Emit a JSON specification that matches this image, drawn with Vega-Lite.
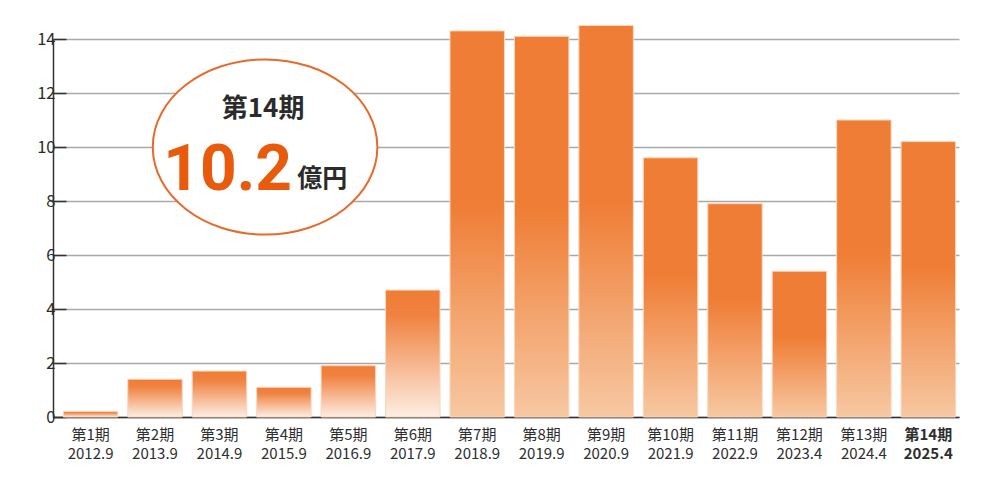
{
  "$schema": "https://vega.github.io/schema/vega-lite/v6.json",
  "width": 906,
  "height": 378,
  "autosize": {"type": "none"},
  "padding": {"left": 53, "top": 39, "right": 41, "bottom": 67},
  "background": "white",
  "config": {"view": {"stroke": null}, "font": "Noto Sans CJK JP"},
  "layer": [
    {
      "data": {
        "values": [
          {"period": "第1期|2012.9", "value": 0.2},
          {"period": "第2期|2013.9", "value": 1.4},
          {"period": "第3期|2014.9", "value": 1.7},
          {"period": "第4期|2015.9", "value": 1.1},
          {"period": "第5期|2016.9", "value": 1.9},
          {"period": "第6期|2017.9", "value": 4.7},
          {"period": "第7期|2018.9", "value": 14.3},
          {"period": "第8期|2019.9", "value": 14.1},
          {"period": "第9期|2020.9", "value": 14.5},
          {"period": "第10期|2021.9", "value": 9.6},
          {"period": "第11期|2022.9", "value": 7.9},
          {"period": "第12期|2023.4", "value": 5.4},
          {"period": "第13期|2024.4", "value": 11.0},
          {"period": "第14期|2025.4", "value": 10.2}
        ]
      },
      "mark": {"type": "bar", "stroke": "#FAD6BD", "strokeWidth": 1},
      "encoding": {
        "x": {
          "field": "period",
          "type": "nominal",
          "sort": null,
          "scale": {"paddingInner": 0.155, "paddingOuter": 0.107, "align": 0.75},
          "axis": {
            "title": null,
            "labelAngle": 0,
            "ticks": false,
            "domainColor": "#333333",
            "domainWidth": 1.5,
            "labelExpr": "split(datum.value, '|')",
            "labelFontSize": 15,
            "labelLineHeight": 19,
            "labelPadding": 10,
            "labelBaseline": "top",
            "labelColor": "#2e2e2e",
            "labelFontWeight": {"condition": {"test": "datum.value == '第14期|2025.4'", "value": "bold"}, "value": "normal"}
          }
        },
        "y": {
          "field": "value",
          "type": "quantitative",
          "scale": {"domain": [0, 14], "nice": false},
          "axis": {
            "title": null,
            "values": [0, 2, 4, 6, 8, 10, 12, 14],
            "grid": true,
            "gridColor": "#a9a9a9",
            "gridWidth": 1.3,
            "domainColor": "#333333",
            "domainWidth": 1.5,
            "tickColor": "#333333",
            "tickWidth": 1.5,
            "tickSize": -13,
            "labelPadding": 11,
            "labelFontSize": 16.5,
            "labelColor": "#2a2a2a"
          }
        },
        "fill": {
          "condition": {
            "test": "datum.value < 5",
            "value": {
              "gradient": "linear", "x1": 0, "y1": 0, "x2": 0, "y2": 1,
              "stops": [
                {"offset": 0, "color": "#EF7D35"},
                {"offset": 0.2, "color": "#F08240"},
                {"offset": 1, "color": "#FDEEE3"}
              ]
            }
          },
          "value": {
            "gradient": "linear", "x1": 0, "y1": 0, "x2": 0, "y2": 1,
            "stops": [
              {"offset": 0, "color": "#EF7D35"},
              {"offset": 0.45, "color": "#EF7D35"},
              {"offset": 1, "color": "#F7C8A2"}
            ]
          }
        }
      }
    },
    {
      "data": {"values": [{"period": "第4期|2015.9", "y": 10.0}]},
      "mark": {
        "type": "point",
        "shape": "M -1 0 A 1 0.78 0 1 1 1 0 A 1 0.78 0 1 1 -1 0 Z",
        "size": 50445,
        "filled": true,
        "fill": "white",
        "stroke": "#E8692A",
        "strokeWidth": 2,
        "opacity": 1,
        "xOffset": 8.4
      },
      "encoding": {
        "x": {"field": "period", "type": "nominal", "sort": null, "bandPosition": 0},
        "y": {"field": "y", "type": "quantitative"}
      }
    },
    {
      "data": {"values": [{"period": "第4期|2015.9", "y": 11.41, "text": "第14期"}]},
      "mark": {"type": "text", "fontSize": 26, "fontWeight": "bold", "color": "#2b2b2b", "align": "center", "baseline": "middle", "dx": 6.4},
      "encoding": {
        "x": {"field": "period", "type": "nominal", "sort": null, "bandPosition": 0},
        "y": {"field": "y", "type": "quantitative"},
        "text": {"field": "text"}
      }
    },
    {
      "data": {"values": [{"period": "第4期|2015.9", "y": 8.41, "text": "10.2"}]},
      "mark": {"type": "text", "font": "Roboto", "fontSize": 64, "fontWeight": "bold", "color": "#E85A0C", "align": "right", "baseline": "alphabetic", "dx": 35.4},
      "encoding": {
        "x": {"field": "period", "type": "nominal", "sort": null, "bandPosition": 0},
        "y": {"field": "y", "type": "quantitative"},
        "text": {"field": "text"}
      }
    },
    {
      "data": {"values": [{"period": "第4期|2015.9", "y": 8.52, "text": "億円"}]},
      "mark": {"type": "text", "fontSize": 25, "fontWeight": "bold", "color": "#2b2b2b", "align": "left", "baseline": "alphabetic", "dx": 40.5},
      "encoding": {
        "x": {"field": "period", "type": "nominal", "sort": null, "bandPosition": 0},
        "y": {"field": "y", "type": "quantitative"},
        "text": {"field": "text"}
      }
    }
  ]
}
